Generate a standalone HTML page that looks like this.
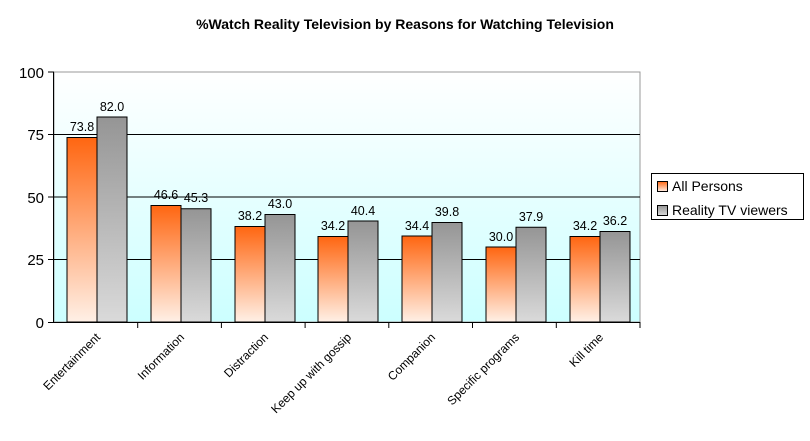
<!DOCTYPE html>
<html><head><meta charset="utf-8"><style>body{margin:0;background:#fff}svg{display:block}text{font-family:"Liberation Sans",Arial,sans-serif}</style></head><body>
<svg width="810" height="441" xmlns="http://www.w3.org/2000/svg">
<defs>
<linearGradient id="bg" x1="0" y1="0" x2="0" y2="1"><stop offset="0" stop-color="#ffffff"/><stop offset="1" stop-color="#ccffff"/></linearGradient>
<linearGradient id="or" x1="0" y1="0" x2="0" y2="1"><stop offset="0" stop-color="#ff6611"/><stop offset="1" stop-color="#fff0e6"/></linearGradient>
<linearGradient id="gr" x1="0" y1="0" x2="0" y2="1"><stop offset="0" stop-color="#959595"/><stop offset="1" stop-color="#dadada"/></linearGradient>
</defs>
<text x="405" y="29" text-anchor="middle" font-size="14" font-weight="bold">%Watch Reality Television by Reasons for Watching Television</text>
<rect x="54" y="72" width="586" height="250" fill="url(#bg)" stroke="#999" stroke-width="1"/>
<g stroke="#000" stroke-width="1">
<line x1="54" y1="134.5" x2="640" y2="134.5"/><line x1="54" y1="197" x2="640" y2="197"/><line x1="54" y1="259.5" x2="640" y2="259.5"/>
<line x1="53.5" y1="72" x2="53.5" y2="322"/><line x1="54" y1="322.5" x2="640" y2="322.5"/>
<line x1="48" y1="72" x2="54" y2="72"/><line x1="48" y1="134.5" x2="54" y2="134.5"/><line x1="48" y1="197" x2="54" y2="197"/><line x1="48" y1="259.5" x2="54" y2="259.5"/><line x1="48" y1="322.5" x2="54" y2="322.5"/>
<line x1="137.7" y1="322" x2="137.7" y2="328"/><line x1="221.4" y1="322" x2="221.4" y2="328"/><line x1="305.1" y1="322" x2="305.1" y2="328"/><line x1="388.8" y1="322" x2="388.8" y2="328"/><line x1="472.5" y1="322" x2="472.5" y2="328"/><line x1="556.3" y1="322" x2="556.3" y2="328"/><line x1="640" y1="322" x2="640" y2="328"/>
</g>
<g font-size="15" text-anchor="end"><text x="44" y="78">100</text><text x="44" y="140">75</text><text x="44" y="203">50</text><text x="44" y="265">25</text><text x="44" y="328">0</text></g>
<g stroke="#000" stroke-width="1">
<rect x="67" y="137.5" width="30" height="184.5" fill="url(#or)"/><rect x="97" y="117" width="30" height="205" fill="url(#gr)"/>
<rect x="151" y="205.5" width="30" height="116.5" fill="url(#or)"/><rect x="181" y="208.75" width="30" height="113.25" fill="url(#gr)"/>
<rect x="235" y="226.5" width="30" height="95.5" fill="url(#or)"/><rect x="265" y="214.5" width="30" height="107.5" fill="url(#gr)"/>
<rect x="318" y="236.5" width="30" height="85.5" fill="url(#or)"/><rect x="348" y="221" width="30" height="101" fill="url(#gr)"/>
<rect x="402" y="236" width="30" height="86" fill="url(#or)"/><rect x="432" y="222.5" width="30" height="99.5" fill="url(#gr)"/>
<rect x="486" y="247" width="30" height="75" fill="url(#or)"/><rect x="516" y="227.25" width="30" height="94.75" fill="url(#gr)"/>
<rect x="570" y="236.5" width="30" height="85.5" fill="url(#or)"/><rect x="600" y="231.5" width="30" height="90.5" fill="url(#gr)"/>
</g>
<g font-size="12.5" text-anchor="middle">
<text x="82" y="131">73.8</text><text x="112" y="111">82.0</text>
<text x="166" y="199">46.6</text><text x="196" y="202">45.3</text>
<text x="250" y="220">38.2</text><text x="280" y="208">43.0</text>
<text x="333" y="230">34.2</text><text x="363" y="215">40.4</text>
<text x="417" y="230">34.4</text><text x="447" y="216">39.8</text>
<text x="501" y="241">30.0</text><text x="531" y="221">37.9</text>
<text x="585" y="230">34.2</text><text x="615" y="225">36.2</text>
</g>
<g font-size="12" text-anchor="end">
<text transform="translate(101,338) rotate(-45)">Entertainment</text>
<text transform="translate(185,338) rotate(-45)">Information</text>
<text transform="translate(269,338) rotate(-45)">Distraction</text>
<text transform="translate(352,338) rotate(-45)">Keep up with gossip</text>
<text transform="translate(436,338) rotate(-45)">Companion</text>
<text transform="translate(520,338) rotate(-45)">Specific programs</text>
<text transform="translate(604,338) rotate(-45)">Kill time</text>
</g>
<rect x="651.5" y="173.5" width="152" height="46" fill="#fff" stroke="#000"/>
<rect x="657.5" y="181.5" width="10" height="10" fill="url(#or)" stroke="#000"/>
<rect x="657.5" y="205.5" width="10" height="10" fill="url(#gr)" stroke="#000"/>
<text x="672" y="191" font-size="14">All Persons</text>
<text x="672" y="215" font-size="14">Reality TV viewers</text>
</svg>
</body></html>
